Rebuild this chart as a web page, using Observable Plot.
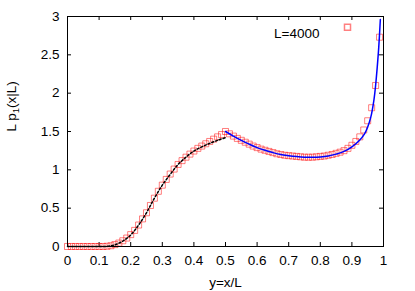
<!DOCTYPE html>
<html><head><meta charset="utf-8">
<script src="https://cdn.jsdelivr.net/npm/d3@7"></script>
<script src="https://cdn.jsdelivr.net/npm/@observablehq/plot@0.6"></script>
<style>html,body{margin:0;padding:0;background:#fff} svg{display:block}</style>
</head><body><div id="chart"></div>
<script>
// simulation points (L=4000), red squares
const simX = [0,0.0125,0.025,0.0375,0.05,0.0625,0.075,0.0875,0.1,0.1125,
  0.125,0.1375,0.15,0.1625,0.175,0.1875,0.2,0.2125,0.225,0.2375,
  0.25,0.2625,0.275,0.2875,0.3,0.3125,0.325,0.3375,0.35,0.3625,
  0.375,0.3875,0.4,0.4125,0.425,0.4375,0.45,0.4625,0.475,0.4875,
  0.5,0.5125,0.525,0.5375,0.55,0.5625,0.575,0.5875,0.6,0.6125,
  0.625,0.6375,0.65,0.6625,0.675,0.6875,0.7,0.7125,0.725,0.7375,
  0.75,0.7625,0.775,0.7875,0.8,0.8125,0.825,0.8375,0.85,0.8625,
  0.875,0.8875,0.9,0.9125,0.925,0.9375,0.95,0.9625,0.975,0.9875];
const simY = [0,0,0,0,0,0,0,0,0,0,
  0.003,0.01,0.025,0.045,0.075,0.11,0.155,0.21,0.28,0.36,
  0.44,0.535,0.63,0.72,0.80,0.875,0.945,1.01,1.07,1.12,
  1.165,1.205,1.245,1.28,1.31,1.34,1.37,1.40,1.43,1.46,
  1.50,1.47,1.44,1.41,1.385,1.36,1.335,1.31,1.29,1.27,
  1.255,1.24,1.225,1.21,1.20,1.19,1.185,1.18,1.175,1.17,
  1.165,1.165,1.165,1.17,1.175,1.18,1.19,1.20,1.215,1.23,
  1.25,1.28,1.32,1.37,1.43,1.52,1.64,1.81,2.10,2.73];
// theory, y < 1/2 (black dotted)
const leftX = [0,0.025,0.05,0.075,0.1,0.125,0.15,0.175,0.2,0.225,0.25,0.275,0.3,0.325,0.35,0.375,0.4,0.425,0.45,0.475,0.5];
const leftY = [0,0,0,0,0,0.002,0.022,0.07,0.15,0.28,0.44,0.63,0.80,0.94,1.07,1.165,1.245,1.30,1.345,1.385,1.42];
// theory, y > 1/2 (blue)
const rightX = [0.5,0.525,0.55,0.575,0.6,0.625,0.65,0.675,0.7,0.725,0.75,0.775,0.8,0.825,0.85,0.875,0.9,0.925,0.94,0.95,0.96,0.97,0.975,0.98,0.985,0.99];
const rightY = [1.50,1.44,1.385,1.335,1.29,1.255,1.225,1.20,1.185,1.173,1.165,1.163,1.167,1.18,1.205,1.24,1.30,1.39,1.47,1.56,1.69,1.92,2.10,2.33,2.60,2.96];
const xTicks = [0,0.1,0.2,0.3,0.4,0.5,0.6,0.7,0.8,0.9,1];
const yTicks = [0,0.5,1,1.5,2,2.5,3];
const legendLabel = "L=4000";
const xLabel = "y=x/L";
const yLabel = "L p1(x|L)";

const sim = simX.map((x, i) => ({x, y: simY[i]}));
const left = leftX.map((x, i) => ({x, y: leftY[i]}));
const right = rightX.map((x, i) => ({x, y: rightY[i]}));

const W = 415, H = 291, mL = 67, mR = 32, mT = 16, mB = 45;
const fw = W - mL - mR, fh = H - mT - mB;
const sqR = 3.4;
const red = "#ff0000";

const plot = Plot.plot({
  width: W, height: H,
  marginLeft: mL, marginRight: mR, marginTop: mT, marginBottom: mB,
  style: {fontFamily: "'Liberation Sans', Arial, sans-serif", fontSize: "13.5px", background: "#fff", color: "#000", overflow: "visible"},
  x: {domain: [0, 1]},
  y: {domain: [0, 3]},
  marks: [
    Plot.axisX(xTicks, {tickSize: 0, tickPadding: 9, tickFormat: d => String(d), label: null, fill: "#000"}),
    Plot.axisY(yTicks, {tickSize: 0, tickPadding: 8, tickFormat: d => String(d), label: null, fill: "#000"}),
    Plot.tickX(xTicks, {x: d => d, insetTop: fh - 4, stroke: "#000"}),
    Plot.tickX(xTicks, {x: d => d, insetBottom: fh - 4, stroke: "#000"}),
    Plot.tickY(yTicks, {y: d => d, insetLeft: fw - 4, stroke: "#000"}),
    Plot.tickY(yTicks, {y: d => d, insetRight: fw - 4, stroke: "#000"}),
    Plot.dot(sim, {x: "x", y: "y", symbol: "square", r: sqR, stroke: red, strokeOpacity: 0.5, strokeWidth: 1, fill: "none"}),
    Plot.line(left, {x: "x", y: "y", stroke: "#000", strokeWidth: 1.5, strokeDasharray: "2,2", curve: "catmull-rom"}),
    Plot.line(right, {x: "x", y: "y", stroke: "#0000ff", strokeWidth: 1.5, curve: "catmull-rom"}),
    Plot.frame({stroke: "#000"}),
    Plot.text([legendLabel], {text: d => d, frameAnchor: "top-right", textAnchor: "end", dx: -64, dy: 11.5, fill: "#000"}),
    Plot.dot([legendLabel], {frameAnchor: "top-right", dx: -36, dy: 10.7, symbol: "square", r: sqR, stroke: red, strokeOpacity: 0.5, fill: "none"}),
    Plot.text([xLabel], {text: d => d, frameAnchor: "bottom", dy: 40.5, fill: "#000"}),
    Plot.text([yLabel], {text: d => d, frameAnchor: "left", rotate: -90, dx: -56.3, fill: "#000"})
  ]
});

// subscript in the y label
d3.select(plot).selectAll("text").filter(function() { return this.textContent === yLabel; })
  .each(function() {
    const t = d3.select(this);
    t.text(null);
    t.append("tspan").text("L p");
    t.append("tspan").attr("font-size", "9.5px").attr("dy", "3").text("1");
    t.append("tspan").attr("dy", "-3").text("(x|L)");
  });

document.getElementById("chart").appendChild(plot);
</script>
</body></html>
